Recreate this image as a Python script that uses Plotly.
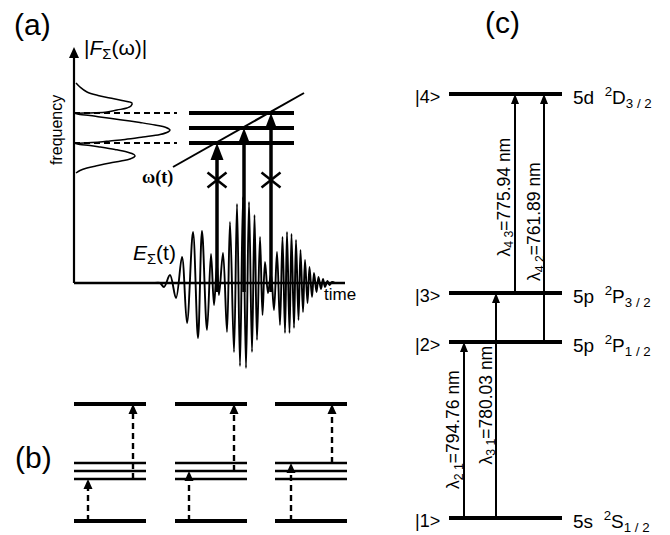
import plotly.graph_objects as go

# ---------------- Panel (a) data ----------------
# |F(omega)| spectrum traced along the frequency axis (x = amplitude, y = frequency)
spec_x = [76, 80, 87, 98, 110, 122, 132, 131, 127, 117, 107, 95, 87, 79, 75,
          80, 90, 100, 115, 130, 140, 155, 166, 170, 168, 160, 143, 125, 110, 100, 88, 80, 75,
          80, 90, 100, 115, 127, 134, 135, 130, 121, 110, 98, 87, 80, 76]
spec_y = [83, 87, 92, 95.5, 98, 100.5, 103, 106, 108, 110, 112, 112.8, 113, 113.2, 113.6,
          114.5, 115.5, 117, 119, 121, 122.5, 125, 127.5, 130, 132, 134.5, 137, 139.5, 141, 142, 142.8, 143.2, 143.6,
          144.5, 145.5, 147, 149.5, 152, 154.5, 156, 159, 161, 163, 165.5, 168, 170.5, 173]

# E(t) waveform extrema
wave_t = [155, 160, 164, 170, 176, 182, 187, 193, 198, 202, 207, 211, 214, 217, 219,
          223, 227, 230, 234, 237, 240, 243, 246, 249, 252, 254.5, 257, 260, 262.5, 265,
          268, 271, 274, 277, 280, 282.5, 285, 287, 289.5, 291.5, 294, 296, 298.5, 300.5,
          303, 305, 307.5, 309.5, 312, 314, 316.5, 318.5, 321, 323, 325, 327.5, 329.5, 332, 335]
wave_E = [283, 283, 287, 275, 298, 257, 323, 232, 338, 231, 330, 254, 305, 265, 295,
          253, 332, 222, 352, 204, 366, 197, 368, 202, 352, 215, 340, 237, 315, 262,
          293, 274, 310, 252, 325, 237, 333, 232, 333, 234, 328, 240, 320, 250,
          312, 260, 303, 267, 297, 273, 292, 277, 289, 279, 287, 281, 285, 282, 283]

a_levels = [113, 128, 143]                 # three excited levels (a)
a_arrow_t = [217, 244, 271]                # times of the three excitations
a_arrow_level = [2, 1, 0]                  # which level each excitation reaches
a_blocked = [True, False, True]            # crossed-out excitations
chirp_start = (173, 167)
chirp_end = (304, 93)

# ---------------- Panel (b) data ----------------
b_left = [74, 175, 275]
b_top, b_bottom = 404, 521
b_mid = [463, 471, 479]
b_target = [2, 1, 0]
b_low_x = [14, 14, 16]
b_up_x = [59, 59, 57]

# ---------------- Panel (c) data ----------------
states = ["|1>", "|2>", "|3>", "|4>"]
terms = ["5s  <sup>2</sup>S<sub>1 / 2</sub>", "5p  <sup>2</sup>P<sub>1 / 2</sub>",
         "5p  <sup>2</sup>P<sub>3 / 2</sub>", "5d  <sup>2</sup>D<sub>3 / 2</sub>"]
c_level_y = [518, 342, 293, 94]
transitions = [(0, 1), (0, 2), (2, 3), (1, 3)]
trans_sub = ["2 1", "3 1", "4 3", "4 2"]
wavelengths_nm = [794.76, 780.03, 775.94, 761.89]
trans_x = [464, 496, 515, 544]
label_x = [454, 487, 505, 535]

FONT = "Arial, Liberation Sans, sans-serif"
shapes = []
annotations = []
fig = go.Figure()


def line(x0, y0, x1, y1, w, dash=None):
    d = dict(type="line", x0=x0, y0=y0, x1=x1, y1=y1, xref="x", yref="y",
             line=dict(color="black", width=w))
    if dash:
        d["line"]["dash"] = dash
    shapes.append(d)


def head(xc, ytip, w, h):
    shapes.append(dict(type="path", xref="x", yref="y",
                       path=f"M {xc},{ytip} L {xc - w / 2},{ytip + h} L {xc + w / 2},{ytip + h} Z",
                       fillcolor="black", line=dict(width=0)))


def text(x, y, s, size, angle=0, xanchor="center", family=FONT, yanchor="middle"):
    annotations.append(dict(x=x, y=y, xref="x", yref="y", text=s, showarrow=False,
                            textangle=angle, xanchor=xanchor, yanchor=yanchor,
                            font=dict(family=family, size=size, color="black")))


# ---- panel (a) ----
fig.add_trace(go.Scatter(x=spec_x, y=spec_y, mode="lines",
                         line=dict(color="black", width=1.5, shape="spline"), hoverinfo="skip"))
fig.add_trace(go.Scatter(x=wave_t, y=wave_E, mode="lines",
                         line=dict(color="black", width=1.9, shape="spline", smoothing=1.0), hoverinfo="skip"))
axis_x0, axis_y0 = 74, 283
line(axis_x0, axis_y0, axis_x0, 56, 2.2)
head(axis_x0, 47, 10, 11)
line(axis_x0, axis_y0, 345, axis_y0, 2.4)
for yl in (a_levels[0], a_levels[2]):
    line(axis_x0, yl, 177, yl, 2, dash="6px,4px")
for yl in a_levels:
    line(189, yl, 294, yl, 4)
line(chirp_start[0], chirp_start[1], chirp_end[0], chirp_end[1], 2)
for t, li, bl in zip(a_arrow_t, a_arrow_level, a_blocked):
    yt = a_levels[li]
    line(t, 292, t, yt + 14, 3.5)
    head(t, yt, 13, 17)
    if bl:
        line(t - 9.5, 172.5, t + 9.5, 187.5, 2.5)
        line(t - 9.5, 187.5, t + 9.5, 172.5, 2.5)

text(32, 24, "(a)", 30)
text(82, 49, "|<i>F</i><sub>Σ</sub>(ω)|", 21, xanchor="left")
text(56, 130, "frequency", 16, angle=-90)
text(157, 177, "<b>ω(t)</b>", 18, family="Liberation Serif, Times New Roman, serif")
text(131, 254, "<i>E</i><sub>Σ</sub>(t)", 21, xanchor="left")
text(322, 294, "time", 17, xanchor="left")

# ---- panel (b) ----
text(33, 457, "(b)", 30)
for x0, tgt, lx, ux in zip(b_left, b_target, b_low_x, b_up_x):
    line(x0, b_top, x0 + 72, b_top, 4)
    line(x0, b_bottom, x0 + 72, b_bottom, 4)
    for ym in b_mid:
        line(x0, ym, x0 + 72, ym, 2.6)
    ym = b_mid[tgt]
    line(x0 + lx, b_bottom, x0 + lx, ym + 9, 2.4, dash="6px,4px")
    head(x0 + lx, ym, 9, 10)
    line(x0 + ux, ym, x0 + ux, b_top + 9, 2.4, dash="6px,4px")
    head(x0 + ux, b_top, 9, 10)

# ---- panel (c) ----
text(502, 22, "(c)", 30)
for s, tm, yl in zip(states, terms, c_level_y):
    line(449, yl, 562, yl, 4)
    text(442, yl + 3, s, 18, xanchor="right")
    text(571, yl + 3, tm, 19, xanchor="left")
for (lo, hi), sub, wl, tx, lx in zip(transitions, trans_sub, wavelengths_nm, trans_x, label_x):
    y0, y1 = c_level_y[lo], c_level_y[hi]
    line(tx, y0, tx, y1 + 8, 2)
    head(tx, y1, 8, 10)
    text(lx, (y0 + y1) / 2 + (0 if lo == 0 else 4), f"λ<sub>{sub}</sub>={wl:.2f} nm", 17.5, angle=-90)

fig.update_layout(
    width=670, height=535, margin=dict(l=0, r=0, t=0, b=0),
    paper_bgcolor="white", plot_bgcolor="white", showlegend=False,
    xaxis=dict(range=[0, 670], visible=False, fixedrange=True),
    yaxis=dict(range=[535, 0], visible=False, fixedrange=True),
    shapes=shapes, annotations=annotations,
)
fig.write_html("out.html", config={"displayModeBar": False},
               post_script="document.body.style.margin='0';")
